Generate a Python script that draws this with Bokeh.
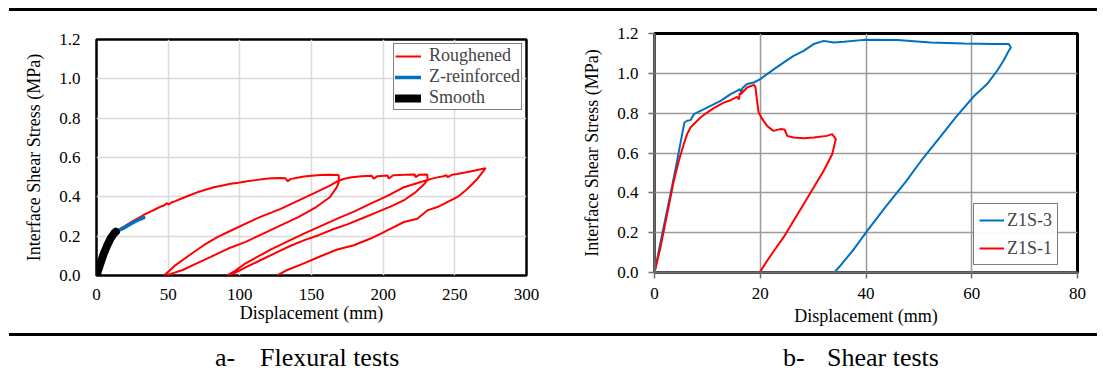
from bokeh.plotting import figure
from bokeh.models import FixedTicker, NumeralTickFormatter, Div, Range1d
from bokeh.layouts import column, row
from bokeh.embed import file_html
from bokeh.resources import INLINE

FONT = "'Liberation Serif', serif"

# ---------------- (a) Flexural tests ----------------
flex_xticks = [0, 50, 100, 150, 200, 250, 300]
flex_yticks = [0.0, 0.2, 0.4, 0.6, 0.8, 1.0, 1.2]

smooth_x = [0, 0.9, 2.8, 5.1, 7.5, 9.8, 12.1, 13.5]
smooth_y = [0, 0.02, 0.062, 0.112, 0.154, 0.188, 0.213, 0.222]

zrein_x = [13.5, 14.4, 19.1, 23.7, 28.4, 33.0]
zrein_y = [0.222, 0.226, 0.242, 0.262, 0.28, 0.294]

rough_x = [
    0, 2.8, 5.1, 7.5, 9.8, 12.1, 15.6, 20, 25, 30, 33, 37, 40, 44, 47, 49.3, 50.2, 52, 55, 59.8,
    65, 70.3, 76, 81.9, 88, 93.5, 99, 105.2, 111, 116.8, 122, 128.4, 131.9, 133.5, 135.3, 140,
    144.7, 150, 156.3, 162, 168, 169, 169,
    167.7, 162.8, 153, 140.8, 128.5, 116.3, 104.1, 91.9, 79.7, 69.9, 60.1, 52, 47,
    51, 55.2, 65, 74.8, 84.6, 94.3, 104.1, 113.9, 128.5, 140.8, 153, 162.8, 168.9,
    173, 178, 185, 192, 193.5, 196, 203, 204, 207, 215, 222, 222.6, 225, 230.8, 231,
    228, 222, 215, 205, 195, 185, 175, 165, 155, 145, 135, 125, 115, 105, 97, 91,
    97, 104, 116, 121.4, 133, 144.7, 156, 168, 180, 191.2, 203, 214.5, 224, 231,
    233, 237.8, 242, 244, 245, 248, 251.7, 256, 258, 263.3, 268, 271.5,
    265.7, 258.7, 251.7, 244.7, 242.4, 237.8, 230.8, 223.8, 214.5, 200.5, 191.2, 179.6, 168,
    156.3, 144.7, 133.1, 126.1,
]
rough_y = [
    0, 0.062, 0.112, 0.154, 0.188, 0.213, 0.232, 0.252, 0.275, 0.295, 0.309, 0.322, 0.333, 0.348,
    0.356, 0.368, 0.36, 0.37, 0.378, 0.393,
    0.408, 0.423, 0.436, 0.449, 0.458, 0.466, 0.472, 0.479, 0.485, 0.491, 0.494, 0.496, 0.494,
    0.479, 0.49, 0.497, 0.503, 0.507, 0.511, 0.512, 0.511, 0.51, 0.474,
    0.449, 0.398, 0.347, 0.297, 0.255, 0.213, 0.171, 0.137, 0.095, 0.062, 0.028, 0.008, 0,
    0.025, 0.053, 0.104, 0.154, 0.196, 0.23, 0.264, 0.297, 0.339, 0.381, 0.423, 0.457, 0.482,
    0.492, 0.5, 0.505, 0.507, 0.493, 0.505, 0.508, 0.493, 0.51, 0.512, 0.514, 0.5, 0.512, 0.513,
    0.486,
    0.46, 0.42, 0.385, 0.35, 0.32, 0.29, 0.26, 0.235, 0.205, 0.18, 0.15, 0.115, 0.08, 0.045,
    0.015, 0,
    0.025, 0.062, 0.11, 0.132, 0.172, 0.213, 0.25, 0.289, 0.326, 0.365, 0.405, 0.449, 0.47, 0.486,
    0.49, 0.499, 0.505, 0.51, 0.5, 0.512, 0.516, 0.522, 0.525, 0.533, 0.54, 0.546,
    0.491, 0.44, 0.398, 0.373, 0.364, 0.348, 0.331, 0.289, 0.272, 0.221, 0.188, 0.154, 0.132,
    0.098, 0.062, 0.028, 0,
]

# ---------------- (b) Shear tests ----------------
shear_xticks = [0, 20, 40, 60, 80]
shear_yticks = [0.0, 0.2, 0.4, 0.6, 0.8, 1.0, 1.2]

z1s3_x = [0, 1.5, 3.02, 4.28, 5.23, 5.67, 6.17, 6.8, 7.44, 8.7, 10.6, 12.5, 14.4, 15.6, 16.2,
          16.4, 16.6, 17.5, 18.8, 20, 21.3, 22.6, 24.4, 26.3, 28.2, 30.1, 32.0, 33.9, 35.8,
          39.6, 45.9, 52.2, 58.5, 64.1, 67.0, 67.4, 67.0, 66.0, 64.8, 62.9, 60.4, 57.0, 53.7,
          50.4, 47.5, 43.7, 40.4, 37.5, 35.0, 34.0, 33.4]
z1s3_y = [0, 0.2, 0.393, 0.561, 0.695, 0.753, 0.762, 0.765, 0.795, 0.812, 0.837, 0.862, 0.896,
          0.912, 0.92, 0.9, 0.925, 0.946, 0.954, 0.971, 0.996, 1.021, 1.054, 1.088, 1.113, 1.147,
          1.163, 1.155, 1.158, 1.168, 1.167, 1.155, 1.15, 1.147, 1.147, 1.13, 1.113, 1.063,
          1.013, 0.946, 0.885, 0.78, 0.67, 0.56, 0.455, 0.33, 0.215, 0.11, 0.03, 0.0, 0.0]

z1s1_x = [0, 1.13, 2.39, 3.65, 4.6, 5.54, 6.17, 6.8, 7.75, 8.7, 9.96, 11.2, 13.1, 14.4, 15.6,
          16.0, 16.1, 16.3, 17.5, 18.8, 19.1, 19.4, 19.7, 20.4, 21.3, 22.5, 23.8, 24.6, 25.1,
          26.3, 28.2, 30.1, 32.6, 33.6, 34.3, 33.6, 32.0, 30.1, 28.2, 26.3, 24.4, 22.6, 21.3,
          19.9]
z1s1_y = [0, 0.126, 0.293, 0.46, 0.561, 0.645, 0.695, 0.728, 0.753, 0.778, 0.803, 0.825, 0.853,
          0.865, 0.882, 0.87, 0.9, 0.895, 0.929, 0.942, 0.93, 0.862, 0.803, 0.77, 0.736, 0.711,
          0.72, 0.718, 0.686, 0.678, 0.674, 0.678, 0.686, 0.695, 0.67, 0.594, 0.511, 0.427,
          0.343, 0.26, 0.176, 0.109, 0.059, 0]

RED = "#ff0000"
BLUE = "#0070c0"


def style_axes(p, grid_color, tick_out, axis_color, label_standoff_x, label_standoff_y,
               title_standoff_x, title_standoff_y):
    for ax in (p.xaxis[0], p.yaxis[0]):
        ax.major_label_text_font = FONT
        ax.major_label_text_font_size = "17px"
        ax.major_label_text_color = "#000000"
        ax.axis_label_text_font = FONT
        ax.axis_label_text_font_size = "18px"
        ax.axis_label_text_font_style = "normal"
        ax.axis_label_text_color = "#000000"
        ax.minor_tick_line_color = None
        ax.major_tick_in = 0
        ax.major_tick_out = tick_out
        ax.major_tick_line_color = axis_color
        ax.major_tick_line_width = 1.5
        if axis_color is None:
            ax.axis_line_color = None
        else:
            ax.axis_line_color = axis_color
            ax.axis_line_width = 2.5
    p.xaxis[0].major_label_standoff = label_standoff_x
    p.yaxis[0].major_label_standoff = label_standoff_y
    p.xaxis[0].axis_label_standoff = title_standoff_x
    p.yaxis[0].axis_label_standoff = title_standoff_y
    p.xgrid.grid_line_color = grid_color
    p.ygrid.grid_line_color = grid_color
    p.xgrid.grid_line_width = 1.5
    p.ygrid.grid_line_width = 1.5
    p.yaxis[0].formatter = NumeralTickFormatter(format="0.0")


# ---- left figure ----
p1 = figure(width=560, height=327, output_backend="svg", toolbar_location=None,
            x_range=Range1d(0, 300), y_range=Range1d(0, 1.2),
            min_border_left=96, min_border_right=34, min_border_top=35, min_border_bottom=56,
            x_axis_label="Displacement (mm)", y_axis_label="Interface Shear Stress (MPa)")
p1.outline_line_color = "#000000"
p1.outline_line_width = 2.5
p1.background_fill_color = "white"
p1.border_fill_color = None
p1.xaxis[0].ticker = FixedTicker(ticks=flex_xticks)
p1.yaxis[0].ticker = FixedTicker(ticks=flex_yticks)
p1.xgrid.ticker = FixedTicker(ticks=flex_xticks)
p1.ygrid.ticker = FixedTicker(ticks=flex_yticks)
style_axes(p1, "#d9d9d9", 0, None, 13, 16, 0, 12)

p1.line(rough_x, rough_y, line_color=RED, line_width=2, legend_label="Roughened")
p1.line(zrein_x, zrein_y, line_color=BLUE, line_width=3.5, line_cap="round",
        legend_label="Z-reinforced")
p1.line(smooth_x, smooth_y, line_color="#000000", line_width=8, line_cap="round",
        legend_label="Smooth")

lg1 = p1.legend[0]
lg1.location = "top_right"
lg1.margin = 4
lg1.padding = 1
lg1.spacing = 0
lg1.label_text_font = FONT
lg1.label_text_font_size = "18px"
lg1.label_text_line_height = 0.9
lg1.label_height = 18
lg1.glyph_height = 18
lg1.glyph_width = 26
lg1.label_standoff = 8
lg1.border_line_color = "#000000"
lg1.border_line_width = 1.2
lg1.background_fill_alpha = 1.0

# ---- right figure ----
p2 = figure(width=543, height=327, output_backend="svg", toolbar_location=None,
            x_range=Range1d(0, 80), y_range=Range1d(0, 1.2),
            min_border_left=94, min_border_right=26, min_border_top=29, min_border_bottom=59,
            x_axis_label="Displacement (mm)", y_axis_label="Interface Shear Stress (MPa)")
p2.outline_line_color = "#000000"
p2.outline_line_width = 3
p2.border_fill_color = None
p2.xaxis[0].ticker = FixedTicker(ticks=shear_xticks)
p2.yaxis[0].ticker = FixedTicker(ticks=shear_yticks)
p2.xgrid.ticker = FixedTicker(ticks=shear_xticks)
p2.ygrid.ticker = FixedTicker(ticks=shear_yticks)
style_axes(p2, "#9a9a9a", 6, "#6e6e6e", 9, 10, 4, 12)

p2.line(z1s3_x, z1s3_y, line_color=BLUE, line_width=2, legend_label="Z1S-3")
p2.line(z1s1_x, z1s1_y, line_color=RED, line_width=2, legend_label="Z1S-1")

lg2 = p2.legend[0]
lg2.location = (319, 7)
lg2.margin = 0
lg2.padding = 5
lg2.spacing = 6
lg2.label_text_font = FONT
lg2.label_text_font_size = "18px"
lg2.label_height = 22
lg2.glyph_height = 22
lg2.glyph_width = 25
lg2.label_standoff = 3
lg2.border_line_color = "#000000"
lg2.border_line_width = 1.2

# ---- rules and captions ----
top_rule = Div(width=1103, height=4, margin=0,
               text='<div style="margin-left:9px;height:3px;margin-bottom:1px;'
                    'width:1088px;background:#000"></div>')

cap_html = (
    '<div style="position:relative;width:1103px;height:41px;'
    'font-family:\'Liberation Serif\';font-size:26px;color:#000;">'
    '<div style="position:absolute;left:9px;top:2px;width:1088px;height:3px;background:#000"></div>'
    '<span style="position:absolute;left:215px;top:22px;line-height:10px;white-space:nowrap">a-</span>'
    '<span style="position:absolute;left:260px;top:22px;line-height:10px;white-space:nowrap">Flexural tests</span>'
    '<span style="position:absolute;left:783px;top:22px;line-height:10px;white-space:nowrap">b-</span>'
    '<span style="position:absolute;left:827px;top:22px;line-height:10px;white-space:nowrap">Shear tests</span>'
    '</div>'
)
captions = Div(width=1103, height=41, margin=0, text=cap_html)

layout = column(top_rule, row(column(p1), column(p2)), captions)

with open("out.html", "w") as f:
    f.write(file_html(layout, INLINE))
